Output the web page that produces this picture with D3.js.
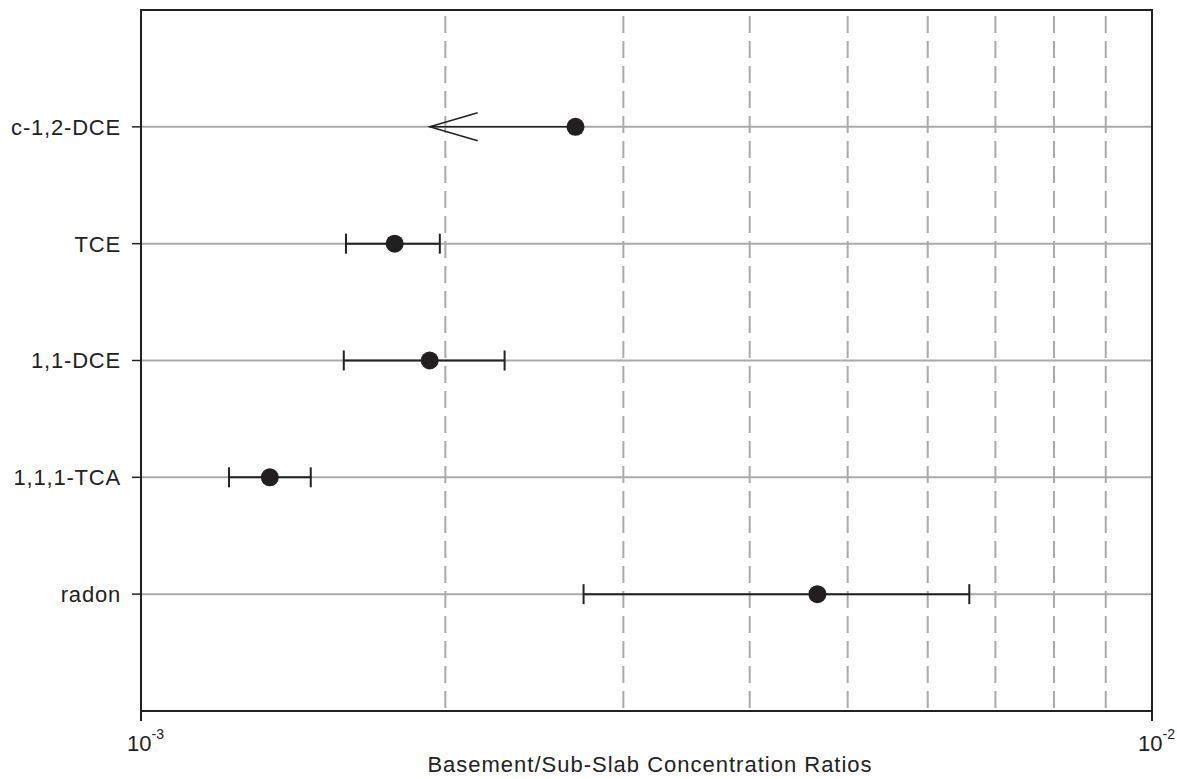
<!DOCTYPE html>
<html><head><meta charset="utf-8">
<script src="https://cdn.jsdelivr.net/npm/d3@7"></script>
<style>body{margin:0;background:#fff;} text{font-family:"Liberation Sans",Arial,sans-serif;fill:#222;}</style>
</head><body>
<svg id="c" width="1177" height="779"></svg>
<script>
const categories = ["c-1,2-DCE","TCE","1,1-DCE","1,1,1-TCA","radon"];
const centers = [0.00269, 0.001782, 0.00193, 0.001341, 0.004667];
const lows = [null, 0.001595, 0.001587, 0.001222, 0.00274];
const highs = [null, 0.001975, 0.002289, 0.001472, 0.006596];
const arrowTo = [0.00193, null, null, null, null];
const gridTicks = [0.002,0.003,0.004,0.005,0.006,0.007,0.008,0.009];
const majorTicks = [0.001, 0.01];
const majorLabels = ["-3","-2"];
const xTitle = "Basement/Sub-Slab Concentration Ratios";

const svg = d3.select("#c");
const L=141, R=1152, T=10, B=711;
const x = d3.scaleLog().domain([0.001,0.01]).range([L,R]);
const y = d3.scaleLinear().domain([0,6]).range([B,T]);
const yPos = i => y(5 - i);

// dashed grid
svg.selectAll(".grid").data(gridTicks).join("line")
  .attr("x1",d=>x(d)).attr("x2",d=>x(d)).attr("y1",T+6).attr("y2",B)
  .attr("stroke","#aaa").attr("stroke-width",2).attr("stroke-dasharray","17,8");
// horizontal lines
svg.selectAll(".hl").data(categories).join("line")
  .attr("x1",L).attr("x2",R).attr("y1",(d,i)=>yPos(i)).attr("y2",(d,i)=>yPos(i))
  .attr("stroke","#aaa").attr("stroke-width",2);
// y ticks and labels
svg.selectAll(".yt").data(categories).join("line")
  .attr("x1",L-9).attr("x2",L).attr("y1",(d,i)=>yPos(i)).attr("y2",(d,i)=>yPos(i))
  .attr("stroke","#222").attr("stroke-width",1.5);
svg.selectAll(".yl").data(categories).join("text")
  .attr("x",L-20).attr("y",(d,i)=>yPos(i)).attr("dy","0.36em").attr("text-anchor","end")
  .attr("font-size",22).attr("letter-spacing","0.8px").text(d=>d);
// frame
svg.append("rect").attr("x",L).attr("y",T).attr("width",R-L).attr("height",B-T)
  .attr("fill","none").attr("stroke","#222").attr("stroke-width",2);
// x major ticks
svg.selectAll(".xt").data(majorTicks).join("line")
  .attr("x1",d=>x(d)).attr("x2",d=>x(d)).attr("y1",B).attr("y2",B+10)
  .attr("stroke","#222").attr("stroke-width",2);
const lbl = svg.selectAll(".xl").data(majorTicks).join("text")
  .attr("x",d=>x(d)-14).attr("y",751).attr("font-size",22);
lbl.append("tspan").text("10");
lbl.append("tspan").attr("dy",-12).attr("font-size",14).text((d,i)=>majorLabels[i]);
svg.append("text").attr("x",650).attr("y",772).attr("text-anchor","middle")
  .attr("font-size",22).attr("letter-spacing","1px").text(xTitle);

// error bars
const idx = d3.range(categories.length).filter(i=>lows[i]!=null);
svg.selectAll(".eb").data(idx).join("line")
  .attr("x1",i=>x(lows[i])).attr("x2",i=>x(highs[i])).attr("y1",i=>yPos(i)).attr("y2",i=>yPos(i))
  .attr("stroke","#222").attr("stroke-width",2);
["lo","hi"].forEach(k=>{
  svg.selectAll(".cap"+k).data(idx).join("line")
    .attr("x1",i=>x(k=="lo"?lows[i]:highs[i])).attr("x2",i=>x(k=="lo"?lows[i]:highs[i]))
    .attr("y1",i=>yPos(i)-10).attr("y2",i=>yPos(i)+10)
    .attr("stroke","#222").attr("stroke-width",2);
});
// arrows
const aidx = d3.range(categories.length).filter(i=>arrowTo[i]!=null);
aidx.forEach(i=>{
  const yy=yPos(i), tip=x(arrowTo[i]);
  svg.append("line").attr("x1",x(centers[i])).attr("x2",tip).attr("y1",yy).attr("y2",yy)
    .attr("stroke","#222").attr("stroke-width",1.5);
  svg.append("path").attr("d",`M${tip+48},${yy-14}L${tip},${yy}L${tip+48},${yy+14}`)
    .attr("fill","none").attr("stroke","#222").attr("stroke-width",1.5);
});
// points
svg.selectAll(".pt").data(centers).join("circle")
  .attr("cx",d=>x(d)).attr("cy",(d,i)=>yPos(i)).attr("r",9).attr("fill","#231f20");
</script>
</body></html>
